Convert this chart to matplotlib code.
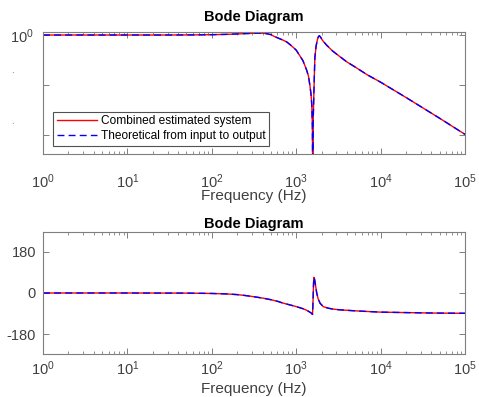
import matplotlib
matplotlib.use("Agg")
import matplotlib.pyplot as plt
from matplotlib.ticker import LogLocator, NullFormatter, FixedLocator

plt.rcParams['font.family'] = ['Liberation Sans', 'DejaVu Sans']
plt.rcParams['mathtext.fontset'] = 'custom'
plt.rcParams['mathtext.rm'] = 'Liberation Sans'
plt.rcParams['mathtext.it'] = 'Liberation Sans'

# ---- data ----
freq_mag = [1, 10, 30, 60, 100, 150, 200, 260, 320, 370, 430, 500, 540, 620, 700,
            770, 850, 930, 1000, 1110, 1200, 1330, 1400, 1458, 1500, 1530, 1555,
            1570, 1590, 1620, 1663, 1720, 1780, 1830, 1880, 1950, 2050, 2290, 2700,
            3300, 4000, 5000, 7000, 10000, 20000, 50000, 100000]
mag = [1.0, 1.0, 1.0, 1.005, 1.015, 1.03, 1.05, 1.07, 1.085, 1.09, 1.075, 1.02, 0.95,
       0.86, 0.79, 0.73, 0.64, 0.56, 0.50, 0.38, 0.31, 0.20, 0.15, 0.095, 0.065,
       0.04, 0.015, 0.001, 0.02, 0.07, 0.35, 0.6, 0.80, 0.92, 0.97, 0.9, 0.78, 0.63,
       0.48, 0.37, 0.29, 0.23, 0.16, 0.115, 0.057, 0.022, 0.0105]

freq_ph = [1, 10, 50, 100, 150, 200, 250, 300, 400, 500, 600, 700, 850, 1000, 1200,
           1350, 1450, 1520, 1560, 1575, 1590, 1605, 1620, 1650, 1700, 1750, 1820,
           1915, 2090, 2400, 2750, 3300, 4350, 6000, 10000, 20000, 41800, 100000]
phase = [0, 0, -0.5, -2, -4, -7, -11, -15, -22, -29, -36, -44, -52, -59, -68,
         -76, -83, -88, -93, -60, -10, 40, 68, 60, 30, 0, -25,
         -44, -59, -66, -70, -73, -76, -79, -83, -85, -87, -88]

labels = ['Combined estimated system', 'Theoretical from input to output']
xticks = [1e0, 1e1, 1e2, 1e3, 1e4, 1e5]
phase_ticks = [-180, 0, 180]

# ---- figure ----
fig = plt.figure(figsize=(4.79, 3.97), dpi=100)
W, H = 479, 397

def ax_rect(x0, y0, x1, y1):
    return [x0 / W, 1 - y1 / H, (x1 - x0) / W, (y1 - y0) / H]

ax1 = fig.add_axes(ax_rect(43, 32, 465, 154))
ax2 = fig.add_axes(ax_rect(43, 231.7, 465, 354.3))

gray = '#7f7f7f'
txt = '#404040'

ax1.plot(freq_mag, mag, color='#ff0000', lw=1.0, label=labels[0])
ax1.plot(freq_mag, mag, color='#0000ff', lw=1.0, ls=(0, (5, 3)), label=labels[1])
ax2.plot(freq_ph, phase, color='#ff0000', lw=1.0)
ax2.plot(freq_ph, phase, color='#0000ff', lw=1.0, ls=(0, (5, 3)))

for ax in (ax1, ax2):
    ax.set_xscale('log')
    ax.set_xlim(1, 1e5)
    ax.set_xticks(xticks)
    ax.xaxis.set_minor_locator(LogLocator(base=10, subs=range(2, 10), numticks=20))
    ax.xaxis.set_minor_formatter(NullFormatter())
    for s in ax.spines.values():
        s.set_color(gray)
        s.set_linewidth(0.8)
    ax.tick_params(which='both', direction='in', top=True, right=True, colors=gray,
                   labelcolor=txt, labelsize=10.5)
    ax.tick_params(which='major', length=4, width=0.7)
    ax.tick_params(which='minor', length=2.5, width=0.6)
    ax.set_xlabel('Frequency (Hz)', fontsize=11, color=txt)

# magnitude axis
ax1.set_yscale('log')
ax1.set_ylim(10 ** -2.37, 10 ** 0.06)
ax1.yaxis.set_major_locator(FixedLocator([1e-2, 1e-1, 1e0]))
ax1.yaxis.set_minor_locator(FixedLocator([]))
ax1.set_yticklabels(['', '', r'$10^{0}$'])
ax1.tick_params(axis='x', pad=13)
ax1.tick_params(axis='y', pad=7)
ax1.set_title('Bode Diagram', fontsize=10.5, fontweight='bold', color='black', pad=8)
ax1.xaxis.set_label_coords(0.5, -0.29)

# phase axis
ax2.set_ylim(-266, 266)
ax2.set_yticks(phase_ticks)
ax2.set_yticklabels([str(t) for t in phase_ticks])
ax2.tick_params(axis='x', pad=4)
ax2.tick_params(axis='y', pad=5)
ax2.set_title('Bode Diagram', fontsize=10.5, fontweight='bold', color='black', pad=3)
ax2.xaxis.set_label_coords(0.5, -0.222)

leg = ax1.legend(loc='lower left', bbox_to_anchor=(0.0237, 0.066), borderaxespad=0,
                 fontsize=8.6, frameon=True, fancybox=False, handlelength=3.4,
                 borderpad=0.3, labelspacing=0.25, handletextpad=0.3)
leg.get_frame().set_edgecolor('#262626')
leg.get_frame().set_linewidth(0.8)
for t in leg.get_texts():
    t.set_color('black')

# small remnants of a cropped label at the left edge
for yy in (70, 121):
    fig.text(12 / W, 1 - yy / H, '.', fontsize=7, color='#606060', ha='center', va='center')

fig.savefig('out.png', dpi=100)
